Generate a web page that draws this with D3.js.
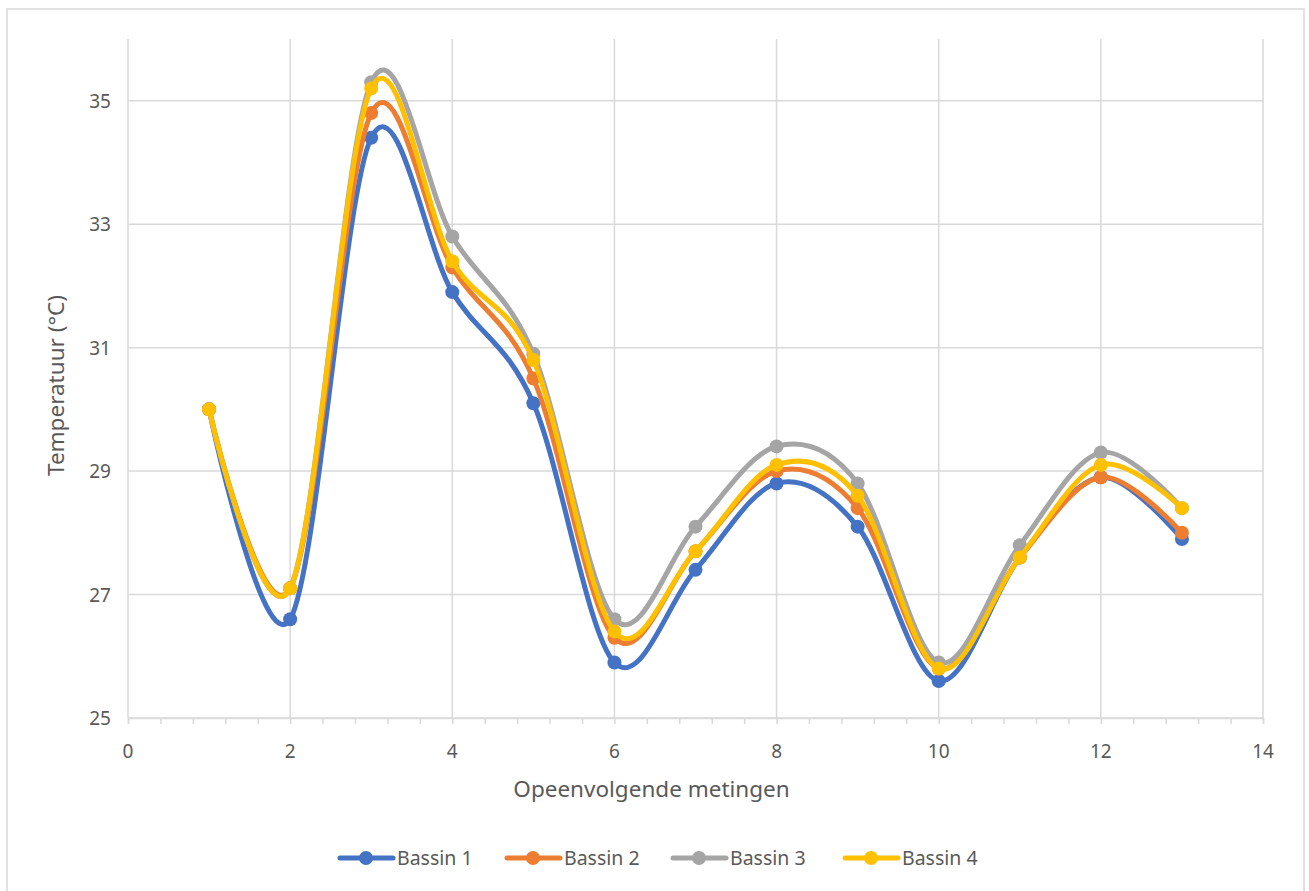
<!DOCTYPE html>
<html>
<head>
<meta charset="utf-8">
<script src="https://cdn.jsdelivr.net/npm/d3@7"></script>
<style>
  body { margin: 0; background: #fff; }
  text { font-family: "Noto Sans", "Open Sans", sans-serif; fill: #595959; }
</style>
</head>
<body>
<div id="chart"></div>
<script>
const metingen = [1, 2, 3, 4, 5, 6, 7, 8, 9, 10, 11, 12, 13]
const bassin1 = [30.0, 26.6, 34.4, 31.9, 30.1, 25.9, 27.4, 28.8, 28.1, 25.6, 27.6, 28.9, 27.9]
const bassin2 = [30.0, 27.1, 34.8, 32.3, 30.5, 26.3, 27.7, 29.0, 28.4, 25.8, 27.6, 28.9, 28.0]
const bassin3 = [30.0, 27.1, 35.3, 32.8, 30.9, 26.6, 28.1, 29.4, 28.8, 25.9, 27.8, 29.3, 28.4]
const bassin4 = [30.0, 27.1, 35.2, 32.4, 30.8, 26.4, 27.7, 29.1, 28.6, 25.8, 27.6, 29.1, 28.4]
const seriesNames = ["Bassin 1", "Bassin 2", "Bassin 3", "Bassin 4"]
const seriesColors = ["#4472C4", "#ED7D31", "#A5A5A5", "#FFC000"]
const xTicks = [0, 2, 4, 6, 8, 10, 12, 14]
const yTicks = [25, 27, 29, 31, 33, 35]

const width = 1309, height = 891
const margin = { left: 128, right: 46, top: 39, bottom: 173 }

const series = [bassin1, bassin2, bassin3, bassin4].map((vals, i) => ({
    name: seriesNames[i],
    color: seriesColors[i],
    points: vals.map((v, j) => ({ x: metingen[j], y: v }))
}))

const x = d3.scaleLinear().domain([0, 14]).range([margin.left, width - margin.right])
const y = d3.scaleLinear().domain([25, 36]).range([height - margin.bottom, margin.top])

const svg = d3.select("#chart").append("svg")
    .attr("width", width)
    .attr("height", height)

// chart area border
svg.append("rect")
    .attr("x", 7).attr("y", 9)
    .attr("width", width - 12).attr("height", height)
    .attr("fill", "#fff")
    .attr("stroke", "#d9d9d9")
    .attr("stroke-width", 1.5)

// gridlines
svg.append("g")
    .selectAll("line")
    .data(yTicks)
    .join("line")
    .attr("x1", x(0)).attr("x2", x(14))
    .attr("y1", d => y(d)).attr("y2", d => y(d))
    .attr("stroke", "#d9d9d9").attr("stroke-width", 1.5)

svg.append("g")
    .selectAll("line")
    .data(xTicks)
    .join("line")
    .attr("x1", d => x(d)).attr("x2", d => x(d))
    .attr("y1", y(36)).attr("y2", y(25))
    .attr("stroke", "#d9d9d9").attr("stroke-width", 1.5)

// x axis with minor ticks
const xAxis = svg.append("g")
    .attr("transform", `translate(0,${y(25)})`)
    .call(d3.axisBottom(x).tickValues(d3.range(0, 14.01, 0.4)).tickSize(6).tickFormat(""))
xAxis.select(".domain").attr("stroke", "#d9d9d9").attr("stroke-width", 1.5)
xAxis.selectAll(".tick line").attr("stroke", "#d9d9d9").attr("stroke-width", 1.5)

svg.append("g")
    .selectAll("text")
    .data(xTicks)
    .join("text")
    .attr("x", d => x(d))
    .attr("y", y(25) + 40)
    .attr("text-anchor", "middle")
    .attr("font-size", 19)
    .text(d => d)

svg.append("g")
    .selectAll("text")
    .data(yTicks)
    .join("text")
    .attr("x", x(0) - 17)
    .attr("y", d => y(d) + 7)
    .attr("text-anchor", "end")
    .attr("font-size", 19)
    .text(d => d)

// axis titles
svg.append("text")
    .attr("x", (x(0) + x(14)) / 2 - 44)
    .attr("y", y(25) + 79)
    .attr("text-anchor", "middle")
    .attr("font-size", 22.5)
    .text("Opeenvolgende metingen")

svg.append("text")
    .attr("transform", `translate(64,${(y(25) + y(36)) / 2 + 7}) rotate(-90)`)
    .attr("text-anchor", "middle")
    .attr("font-size", 22.5)
    .text("Temperatuur (°C)")

// lines
const line = d3.line()
    .x(d => x(d.x))
    .y(d => y(d.y))
    .curve(d3.curveCardinal.tension(0))

const g = svg.append("g")
series.forEach(s => {
    g.append("path")
        .datum(s.points)
        .attr("fill", "none")
        .attr("stroke", s.color)
        .attr("stroke-width", 5)
        .attr("stroke-linecap", "round")
        .attr("d", line)
    g.append("g")
        .selectAll("circle")
        .data(s.points)
        .join("circle")
        .attr("cx", d => x(d.x))
        .attr("cy", d => y(d.y))
        .attr("r", 7)
        .attr("fill", s.color)
})

// legend
const legendX = [338, 505, 671, 843]
const legend = svg.append("g")
    .selectAll("g")
    .data(series)
    .join("g")
    .attr("transform", (d, i) => `translate(${legendX[i]},858)`)
legend.append("line")
    .attr("x1", 2).attr("x2", 55)
    .attr("stroke", d => d.color)
    .attr("stroke-width", 5)
    .attr("stroke-linecap", "round")
legend.append("circle")
    .attr("cx", 28).attr("r", 7)
    .attr("fill", d => d.color)
legend.append("text")
    .attr("x", 59).attr("y", 7)
    .attr("font-size", 19.5)
    .text(d => d.name)
</script>
</body>
</html>
